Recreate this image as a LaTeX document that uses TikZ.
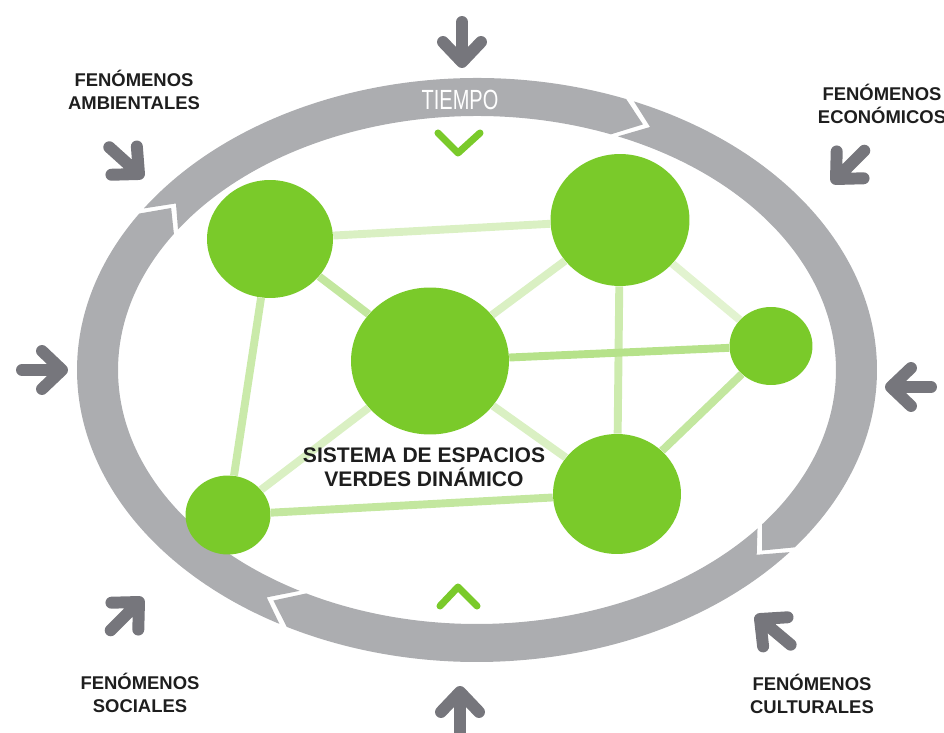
\documentclass[tikz,border=0pt]{standalone}
\usepackage{fontspec}
\setmainfont{Liberation Sans}
\newfontfamily\tiempofont[FakeStretch=0.72]{Liberation Sans}
\definecolor{spgreen}{RGB}{122,202,42}
\definecolor{ringgray}{RGB}{172,173,176}
\definecolor{arrowgray}{RGB}{118,118,124}
\definecolor{labelblack}{RGB}{30,30,30}
\usetikzlibrary{calc,shapes.geometric}

% one piece of the time ring: start angle, end angle (clockwise)
\newcommand{\ringseg}[2]{%
  \fill[ringgray] ($(ctr)+(#1:400 and 292)$)
    arc[start angle=#1, end angle=#2, x radius=400, y radius=292]
    -- ($(ctr)+(#2-4:380 and 273)$) -- ($(ctr)+(#2:359 and 254)$)
    arc[start angle=#2, end angle=#1, x radius=359, y radius=254]
    -- ($(ctr)+(#1-4:380 and 273)$) -- cycle;}

\tikzset{
  outarr/.style={arrowgray,line width=6.8pt,line cap=round,line join=round},
  fenarrow/.pic={\draw[outarr] (-40,0) -- (0,0) (-20,19) -- (0,0) -- (-20,-19);},
  chev/.style={spgreen,line width=4pt,line cap=round,line join=round},
  espacio/.style={ellipse,fill=spgreen,inner sep=0pt},
  link/.style={line width=4.5pt},
  fenlabel/.style={font=\fontsize{10.5}{13.1}\selectfont\bfseries,align=center,text=labelblack}
}

\begin{document}
\begin{tikzpicture}[x=0.02cm,y=0.02cm]
  \useasboundingbox (0,0) rectangle (944,-733);
  \coordinate (ctr) at (477,-370);

  % Time ring
  \ringseg{240.4}{147.6}
  \ringseg{146.4}{68.1}
  \ringseg{66.9}{-37.4}
  \ringseg{-38.6}{-118.4}
  \node[font=\tiempofont\fontsize{15.8}{16}\selectfont,text=white] (tiempo) at (460,-100) {TIEMPO};

  % Outside influences
  \pic[rotate=-90] at (462,-62) {fenarrow};
  \pic[rotate=0] at (62,-370) {fenarrow};
  \pic[rotate=180] at (891,-387) {fenarrow};
  \pic[rotate=90] at (460,-692) {fenarrow};
  \pic[rotate=-42] at (139,-174) {fenarrow};
  \pic[rotate=-135] at (836,-179) {fenarrow};
  \pic[rotate=45] at (139,-602) {fenarrow};
  \pic[rotate=140] at (760,-619) {fenarrow};

  \draw[chev] (438,-133) -- (458,-153) -- (480,-133);
  \draw[chev] (440,-606) -- (458,-587) -- (477,-606);

  % Green spaces
  \node[espacio,minimum width=2.52cm,minimum height=2.36cm] (nodoNO) at (270,-239) {};
  \node[espacio,minimum width=2.78cm,minimum height=2.64cm] (nodoNE) at (620,-220) {};
  \node[espacio,minimum width=3.16cm,minimum height=2.94cm] (nodoC) at (430,-361) {};
  \node[espacio,minimum width=1.66cm,minimum height=1.56cm] (nodoE) at (771,-346) {};
  \node[espacio,minimum width=1.70cm,minimum height=1.58cm] (nodoSO) at (228,-515) {};
  \node[espacio,minimum width=2.56cm,minimum height=2.40cm] (nodoSE) at (617,-494) {};

  \draw[link,spgreen!28] (nodoNO) -- (nodoNE);
  \draw[link,spgreen!45] (nodoNO) -- (nodoC);
  \draw[link,spgreen!40] (nodoNO) -- (nodoSO);
  \draw[link,spgreen!28] (nodoNE) -- (nodoC);
  \draw[link,spgreen!22] (nodoNE) -- (nodoE);
  \draw[link,spgreen!38] (nodoNE) -- (nodoSE);
  \draw[link,spgreen!55] (nodoC) -- (nodoE);
  \draw[link,spgreen!28] (nodoC) -- (nodoSO);
  \draw[link,spgreen!28] (nodoC) -- (nodoSE);
  \draw[link,spgreen!45] (nodoE) -- (nodoSE);
  \draw[link,spgreen!45] (nodoSO) -- (nodoSE);

  \node[font=\fontsize{12}{13.7}\selectfont\bfseries,align=center,text=labelblack] (sistema) at (424,-467)
    {SISTEMA DE ESPACIOS\\VERDES DINÁMICO};

  % Labels
  \node[fenlabel] (ambiental) at (134,-90) {FENÓMENOS\\AMBIENTALES};
  \node[fenlabel] (economico) at (882,-104) {FENÓMENOS\\ECONÓMICOS};
  \node[fenlabel] (social) at (140,-693) {FENÓMENOS\\SOCIALES};
  \node[fenlabel] (cultural) at (812,-694) {FENÓMENOS\\CULTURALES};
\end{tikzpicture}
\end{document}
